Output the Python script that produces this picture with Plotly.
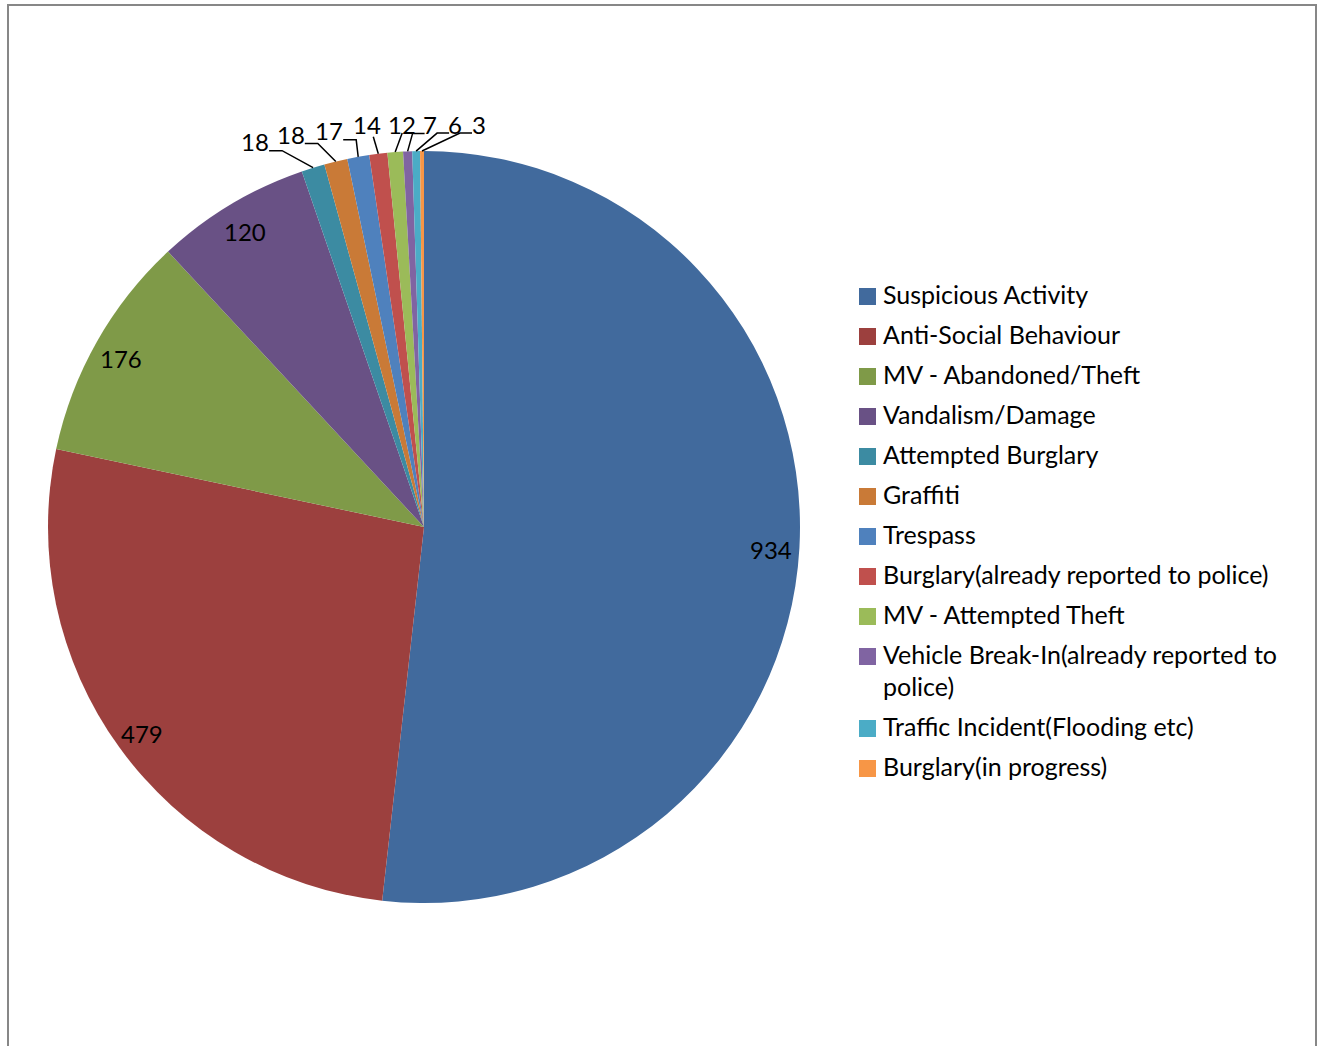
import math
import textwrap
import plotly.graph_objects as go

# ---------------- data ----------------
categories = [
    "Suspicious Activity",
    "Anti-Social Behaviour",
    "MV - Abandoned/Theft",
    "Vandalism/Damage",
    "Attempted Burglary",
    "Graffiti",
    "Trespass",
    "Burglary(already reported to police)",
    "MV - Attempted Theft",
    "Vehicle Break-In(already reported to police)",
    "Traffic Incident(Flooding etc)",
    "Burglary(in progress)",
]
values = [934, 479, 176, 120, 18, 18, 17, 14, 12, 7, 6, 3]

# ---------------- style / layout ----------------
colors = ["#416A9D", "#9C403E", "#7F9A48", "#695185", "#3C8BA2", "#C97A37",
          "#4F81BD", "#C0504D", "#9BBB59", "#8064A2", "#4BACC6", "#F79646"]

W, H = 1322, 1046
CX, CY, R = 424, 527, 376          # pie centre / radius in pixels
FONT = "Lato"
FS = 24
FS_LEG = 25

# label placement: 'in' = inside at fraction of radius; otherwise outside with
# (dx, dy) offset of label centre from slice edge point, and elbow offset from label centre
label_mode = ["in", "in", "in", "in", "out", "out", "out", "out", "out", "out", "out", "out"]
out_offsets = {
    4: ((-58, -26), (27, 9)),
    5: ((-45, -27), (27, 9)),
    6: ((-29, -26), (27, 9)),
    7: ((-11, -29), (6, 12)),
    8: ((7, -28), (0, 9)),
    9: ((22, -27), (-17, 9)),
    10: ((39, -27), (-18, 9)),
    11: ((57, -27), (-19, 9)),
}
inside_frac = 0.925

fig = go.Figure()

fig.add_trace(go.Pie(
    values=values,
    labels=categories,
    sort=False,
    direction="clockwise",
    rotation=0,
    textinfo="none",
    hoverinfo="label+value",
    marker=dict(colors=colors, line=dict(width=0)),
    showlegend=False,
    domain=dict(x=[(CX - R) / W, (CX + R) / W], y=[1 - (CY + R) / H, 1 - (CY - R) / H]),
))

# pixel-space helper axes
fig.update_xaxes(range=[0, W], visible=False, fixedrange=True)
fig.update_yaxes(range=[H, 0], visible=False, fixedrange=True)
fig.add_trace(go.Scatter(x=[0, W], y=[0, H], mode="markers",
                         marker=dict(opacity=0), showlegend=False, hoverinfo="skip"))

annotations = []
shapes = []

# frame
shapes.append(dict(type="rect", xref="x", yref="y", x0=8, y0=5, x1=1316, y1=1200,
                   line=dict(color="#878787", width=2), fillcolor="rgba(0,0,0,0)"))

# data labels
total = sum(values)
cum = 0
for i, v in enumerate(values):
    mid = (cum + v / 2) / total * 2 * math.pi
    cum += v
    sx, sy = math.sin(mid), -math.cos(mid)
    if label_mode[i] == "in":
        lx = CX + inside_frac * R * sx
        ly = CY + inside_frac * R * sy + 3
        annotations.append(dict(x=lx, y=ly, xref="x", yref="y", text=str(v), showarrow=False,
                                xanchor="center", yanchor="middle",
                                font=dict(family=FONT, size=FS, color="#000000")))
    else:
        ex, ey = CX + R * sx, CY + R * sy
        (dx, dy), (bx, by) = out_offsets[i]
        lx, ly = ex + dx, ey + dy
        annotations.append(dict(x=lx, y=ly, xref="x", yref="y", text=str(v), showarrow=False,
                                xanchor="center", yanchor="middle",
                                font=dict(family=FONT, size=FS, color="#000000")))
        elx, ely = lx + bx, ly + by
        path = f"M {ex:.1f} {ey:.1f} L {elx:.1f} {ely:.1f}"
        if abs(bx) > 10:
            # horizontal run towards the text
            hx = elx - 13 if bx > 0 else elx + 12
            path += f" L {hx:.1f} {ely:.1f}"
        shapes.append(dict(type="path", xref="x", yref="y", path=path,
                           line=dict(color="#000000", width=1.5)))

# legend (manual)
LX_BOX, LX_TXT, LY0, STEP, LINE = 859, 881, 296, 40, 32
y = LY0
for i, name in enumerate(categories):
    lines = textwrap.wrap(name, width=37, break_on_hyphens=False)
    shapes.append(dict(type="rect", xref="x", yref="y", x0=LX_BOX, x1=LX_BOX + 17,
                       y0=y - 8, y1=y + 9, fillcolor=colors[i], line=dict(width=0)))
    for k, ln in enumerate(lines):
        annotations.append(dict(x=LX_TXT, y=y + k * LINE - 2, xref="x", yref="y", text=ln,
                                showarrow=False, xanchor="left", yanchor="middle",
                                font=dict(family=FONT, size=FS_LEG, color="#000000")))
    y += STEP + LINE * (len(lines) - 1)

fig.update_layout(
    width=W, height=H,
    margin=dict(l=0, r=0, t=0, b=0),
    paper_bgcolor="white",
    plot_bgcolor="white",
    annotations=annotations,
    shapes=shapes,
    showlegend=False,
)

fig.write_html("out.html")
